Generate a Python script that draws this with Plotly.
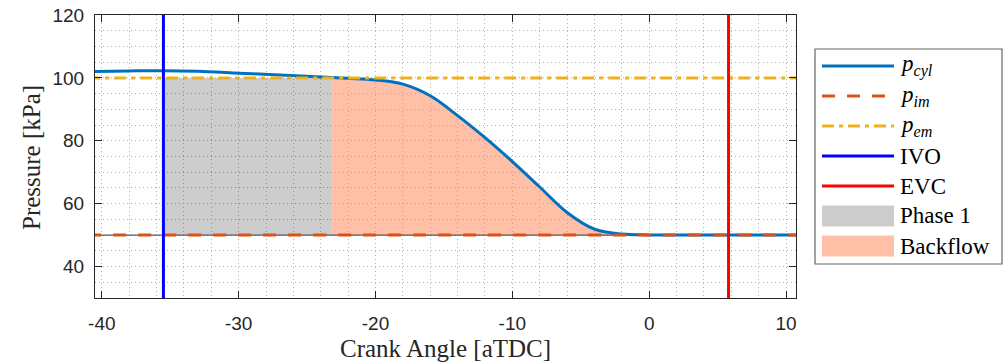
import plotly.graph_objects as go

# ---------------- data ----------------
crank_angle = [-41, -38, -35.5, -33, -30, -27, -23.2, -22, -20, -18, -16, -14, -12, -10,
               -8, -6, -4, -2, 0, 2, 5, 8, 11]
p_cyl = [102.0, 102.2, 102.3, 102.1, 101.5, 100.9, 100.1, 99.85, 99.35, 98.0, 94.3, 88.0,
         81.0, 73.4, 65.3, 57.2, 51.9, 50.35, 50.05, 50.0, 50.0, 50.0, 50.0]
p_im = 50.0
p_em = 100.0
ivo = -35.5
evc = 5.8
backflow_start = -23.2
backflow_end = 0.0
baseline_end = -2.0

x_range = [-40.5, 10.73]
y_range = [30, 120]
x_ticks = [-40, -30, -20, -10, 0, 10]
x_tick_labels = ["-40", "-30", "-20", "-10", "0", "10"]
y_ticks = [40, 60, 80, 100, 120]
y_tick_labels = ["40", "60", "80", "100", "120"]

legend_labels = ["<i>p</i><sub><i>cyl</i></sub>", "<i>p</i><sub><i>im</i></sub>",
                 "<i>p</i><sub><i>em</i></sub>", "IVO", "EVC", "Phase 1", "Backflow"]
x_title = "Crank Angle [aTDC]"
y_title = "Pressure [kPa]"

# ---------------- styles ----------------
C_CYL = "#0072BD"
C_IM = "#D95319"
C_EM = "#EDB120"
C_IVO = "#0000FF"
C_EVC = "#FF0000"
F_PH1 = "rgba(0,0,0,0.2)"
F_BF = "rgba(255,130,80,0.5)"
DASH_IM = "13px,12px"
DASH_EM = "12px,5px,4px,5px"
SERIF = "Liberation Serif, Times New Roman, serif"
SANS = "Liberation Sans, Arial, sans-serif"
GRID = "#b4b4b4"
GRID_DASH = "1px,3px"

W, H = 1004, 363
L, R, T, B = 95, 796, 15, 298


def px2x(px):
    return (px - L) / (R - L)


def py2y(py):
    return (B - py) / (B - T)


fig = go.Figure()

# Phase 1 fill
fig.add_trace(go.Scatter(
    x=[ivo, backflow_start, backflow_start, ivo],
    y=[p_im, p_im, p_em, p_em],
    fill="toself", fillcolor=F_PH1, mode="lines", line=dict(width=0),
    showlegend=False, hoverinfo="skip"))

# Backflow fill
bf_x = [a for a in crank_angle if backflow_start <= a <= backflow_end]
bf_y = [p for a, p in zip(crank_angle, p_cyl) if backflow_start <= a <= backflow_end]
fig.add_trace(go.Scatter(x=bf_x, y=[p_im] * len(bf_x), mode="lines",
                         line=dict(width=0), showlegend=False, hoverinfo="skip"))
fig.add_trace(go.Scatter(x=bf_x, y=bf_y, mode="lines", fill="tonexty", fillcolor=F_BF,
                         line=dict(width=0, shape="spline"), showlegend=False,
                         hoverinfo="skip"))

# baseline of area
fig.add_trace(go.Scatter(x=[crank_angle[0], baseline_end], y=[p_im, p_im], mode="lines",
                         line=dict(color="#333333", width=1), showlegend=False,
                         hoverinfo="skip"))

# p_cyl
fig.add_trace(go.Scatter(x=crank_angle, y=p_cyl, mode="lines",
                         line=dict(color=C_CYL, width=3, shape="spline"),
                         showlegend=False))
# p_im
fig.add_trace(go.Scatter(x=[crank_angle[0], crank_angle[-1]], y=[p_im, p_im], mode="lines",
                         line=dict(color=C_IM, width=3, dash=DASH_IM), showlegend=False))
# p_em
fig.add_trace(go.Scatter(x=[crank_angle[0], crank_angle[-1]], y=[p_em, p_em], mode="lines",
                         line=dict(color=C_EM, width=3, dash=DASH_EM), showlegend=False))
# IVO / EVC
fig.add_trace(go.Scatter(x=[ivo, ivo], y=y_range, mode="lines",
                         line=dict(color=C_IVO, width=3), showlegend=False))
fig.add_trace(go.Scatter(x=[evc, evc], y=y_range, mode="lines",
                         line=dict(color=C_EVC, width=3), showlegend=False))

# ---------------- custom legend ----------------
shapes = []
annotations = []
box = dict(x0=815, x1=1002, y0=49, y1=264)
shapes.append(dict(type="rect", xref="paper", yref="paper",
                   x0=px2x(box["x0"]), x1=px2x(box["x1"]),
                   y0=py2y(box["y1"]), y1=py2y(box["y0"]),
                   line=dict(color="#666666", width=1.2), fillcolor="white", layer="above"))
item_styles = [
    ("line", C_CYL, "solid"), ("line", C_IM, DASH_IM), ("line", C_EM, DASH_EM),
    ("line", C_IVO, "solid"), ("line", C_EVC, "solid"),
    ("rect", F_PH1, None), ("rect", F_BF, None),
]
for i, (lab, (kind, col, dash)) in enumerate(zip(legend_labels, item_styles)):
    yc = 66 + 30 * i
    if kind == "line":
        shapes.append(dict(type="line", xref="paper", yref="paper",
                           x0=px2x(822), x1=px2x(894), y0=py2y(yc), y1=py2y(yc),
                           line=dict(color=col, width=3, dash=dash), layer="above"))
    else:
        shapes.append(dict(type="rect", xref="paper", yref="paper",
                           x0=px2x(822), x1=px2x(894), y0=py2y(yc + 10.5), y1=py2y(yc - 10.5),
                           line=dict(width=0), fillcolor=col, layer="above"))
    annotations.append(dict(xref="paper", yref="paper", x=px2x(898), y=py2y(yc),
                            xanchor="left", yanchor="middle", text=lab, showarrow=False,
                            font=dict(family=SERIF, size=23, color="black")))

# axis titles
annotations.append(dict(xref="paper", yref="paper", x=px2x(446), y=py2y(348),
                        xanchor="center", yanchor="middle", text=x_title,
                        showarrow=False, font=dict(family=SERIF, size=25, color="#262626")))
annotations.append(dict(xref="paper", yref="paper", x=px2x(31), y=py2y(158),
                        xanchor="center", yanchor="middle", text=y_title,
                        textangle=-90, showarrow=False,
                        font=dict(family=SERIF, size=25, color="#262626")))

axis_common = dict(
    showline=True, linecolor="#262626", linewidth=1, mirror="ticks",
    ticks="inside", ticklen=7, tickcolor="#262626", tickwidth=1,
    showgrid=True, gridcolor=GRID, gridwidth=1, griddash=GRID_DASH,
    zeroline=False, tickfont=dict(family=SANS, size=19, color="#262626"),
)

fig.update_xaxes(range=x_range, tickvals=x_ticks, ticktext=x_tick_labels,
                 ticklabelstandoff=8,
                 minor=dict(dtick=2, showgrid=True, gridcolor=GRID, griddash=GRID_DASH,
                            gridwidth=1, ticks=""),
                 **axis_common)
fig.update_yaxes(range=y_range, tickvals=y_ticks, ticktext=y_tick_labels,
                 ticklabelstandoff=6,
                 minor=dict(dtick=5, showgrid=True, gridcolor=GRID, griddash=GRID_DASH,
                            gridwidth=1, ticks=""),
                 **axis_common)

fig.update_layout(
    width=W, height=H,
    margin=dict(l=L, r=W - R, t=T, b=H - B, autoexpand=False),
    plot_bgcolor="white", paper_bgcolor="white",
    showlegend=False, shapes=shapes, annotations=annotations,
)

fig.write_html("out.html")
